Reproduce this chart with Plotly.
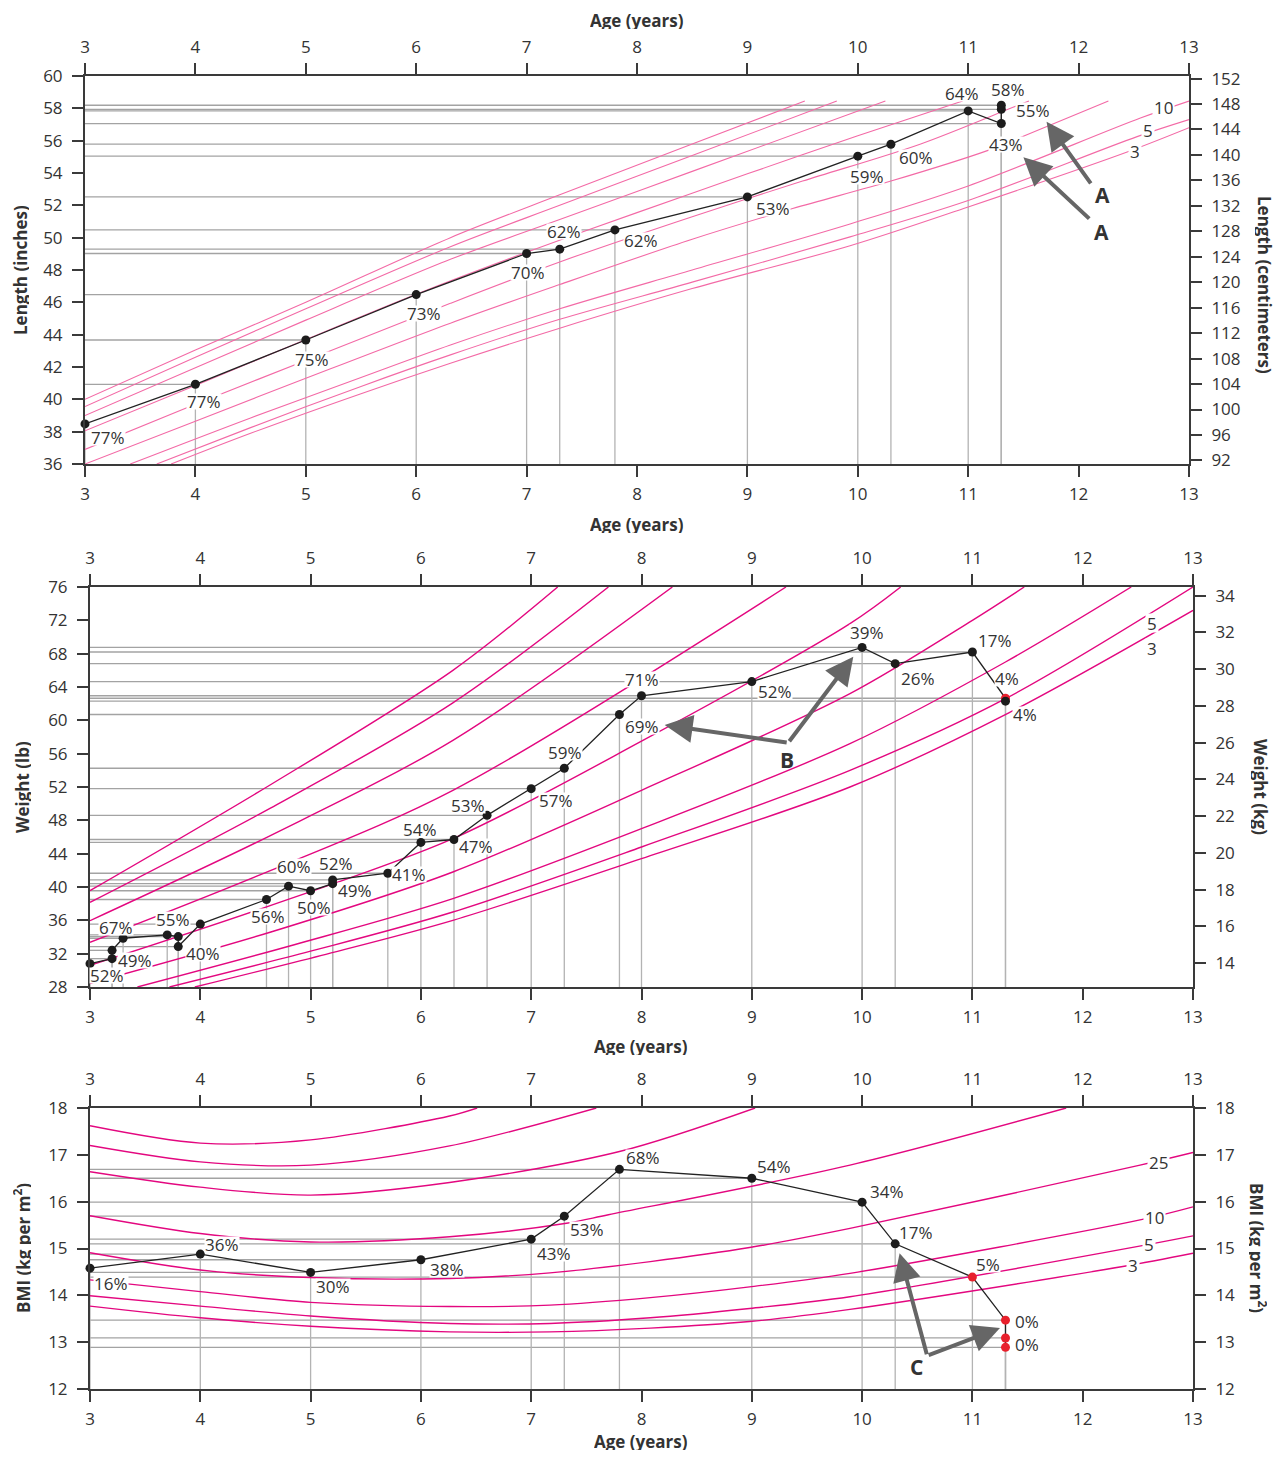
import plotly.graph_objects as go

# the page body has an 8 px margin: the figure is laid out in page pixels minus that offset
OFF = 8
FW, FH = 1285 - 2 * OFF, 1459 - 2 * OFF
FONT = "Open Sans"
INK = "#333333"
AXC = "#3a3a3a"
PINK1 = "#f36aa6"
PINK = "#e3077f"
RED = "#e8202c"
DOT = "#1c1c1c"
ARW = "#666666"

AGE_TICKS = list(range(3, 14))

# ---------------- Panel 1 : length ----------------
len_age = [3, 4, 5, 6, 7, 7.3, 7.8, 9, 10, 10.3, 11, 11.3, 11.3, 11.3]
len_in = [38.48, 40.93, 43.67, 46.48, 49.02, 49.29, 50.48, 52.52, 55.04, 55.78, 57.84, 57.06, 57.94, 58.19]
len_pct = ["77%", "77%", "75%", "73%", "70%", "62%", "62%", "53%", "59%", "60%", "64%", "43%", "55%", "58%"]
len_off = [(23, 14), (9, 17), (6, 19), (8, 19), (1, 19), (4, -18), (26, 11), (26, 12), (9, 20), (25, 13),
           (-6, -17), (5, 21), (32, 1), (7, -16)]

len_p97 = [(3, 40.0), (4, 43.05), (5, 46.0), (6.31, 50.0), (7.3, 52.65), (8.5, 55.8), (9.52, 58.45)]
len_p95 = [(3, 39.55), (4, 42.6), (5, 45.6), (6.31, 49.44), (7.3, 52.0), (8.5, 55.08), (9.81, 58.45)]
len_p90 = [(3, 39.0), (4, 41.95), (5, 44.9), (6.31, 48.66), (7.3, 51.12), (8.5, 54.1), (10.25, 58.45)]
len_p75 = [(3, 38.05), (4, 40.85), (5, 43.7), (6, 46.5), (7, 49.1), (8, 51.55), (9, 53.95), (10, 56.3), (10.95, 58.45)]
len_p50 = [(3, 36.9), (4, 39.7), (5, 42.4), (6.31, 45.94), (7.3, 48.5), (8.5, 51.3), (9.5, 53.5), (10.57, 55.8),
           (11.4, 58.05), (11.55, 58.45)]
len_p25 = [(3, 36.0), (4, 38.65), (5, 41.3), (6.31, 44.71), (7.3, 47.1), (8.5, 49.9), (9.41, 51.8), (10.3, 53.5),
           (11.18, 55.4), (11.51, 56.3), (12.27, 58.45)]
len_p10 = [(3.41, 36.0), (4.5, 38.85), (5.5, 41.35), (6.31, 43.36), (7.3, 45.6), (8.5, 48.0), (9.93, 50.85),
           (11, 53.2), (12.56, 57.4), (13, 58.45)]
len_p5 = [(3.65, 36.0), (4.5, 38.25), (5.5, 40.8), (6.31, 42.75), (7.3, 44.95), (8.5, 47.25), (9.93, 50.05),
          (11, 52.3), (12.53, 56.25), (13, 57.3)]
len_p3 = [(3.78, 36.0), (4.5, 37.9), (5.5, 40.35), (6.31, 42.23), (7.3, 44.4), (8.5, 46.85), (9.93, 49.5),
          (11, 51.9), (12.44, 55.3), (13, 56.8)]

# ---------------- Panel 2 : weight ----------------
wt_age = [3, 3.2, 3.2, 3.3, 3.7, 3.8, 3.8, 4.0, 4.6, 4.8, 5.0, 5.2, 5.2, 5.7, 6.0, 6.3, 6.6, 7.0, 7.3, 7.8, 8.0,
          9.0, 10.0, 10.3, 11.0, 11.3, 11.3]
wt_lb = [30.8, 31.4, 32.4, 33.85, 34.25, 34.05, 32.85, 35.55, 38.5, 40.1, 39.55, 40.4, 40.85, 41.65, 45.35, 45.7,
         48.6, 51.8, 54.25, 60.7, 62.95, 64.65, 68.75, 66.8, 68.2, 62.65, 62.3]
wt_pct = ["52%", "49%", "", "67%", "55%", "", "40%", "", "56%", "60%", "50%", "49%", "52%", "41%", "54%", "47%",
          "53%", "57%", "59%", "69%", "71%", "52%", "39%", "26%", "17%", "4%", "4%"]
wt_flag = [0] * 25 + [1, 0]
wt_off = [(17, 12), (23, 2), (0, 0), (-7, -11), (6, -15), (0, 0), (25, 7), (0, 0), (2, 17), (5, -20), (3, 17),
          (22, 7), (3, -16), (21, 1), (-1, -13), (22, 7), (-19, -10), (25, 12), (1, -16), (23, 12), (0, -16),
          (23, 10), (5, -15), (23, 15), (23, -12), (2, -20), (20, 13)]

wt_p97 = [(3, 39.56), (4.64, 52.3), (6.29, 66.0), (7.24, 76)]
wt_p95 = [(3, 38.16), (4.64, 49.5), (6.29, 62.1), (7.70, 76)]
wt_p90 = [(3, 35.96), (4.64, 46.2), (6.29, 57.6), (8.28, 76)]
wt_p75 = [(3, 33.36), (4.64, 42.0), (6.29, 51.6), (9.31, 76)]
wt_p50 = [(3, 30.6), (4.64, 37.8), (6.29, 45.8), (8, 57.5), (9.89, 71.6), (10.35, 76)]
wt_p25 = [(3, 28.44), (4.64, 34.6), (6.29, 41.8), (8, 51.6), (9.89, 63.2), (11, 72.0), (11.47, 76)]
wt_p10 = [(3.43, 28), (4.86, 33.1), (6.29, 38.6), (8, 47.0), (9.89, 57.2), (11.3, 67.0), (12.44, 76)]
wt_p5 = [(3.72, 28), (5.0, 32.3), (6.29, 37.0), (8, 44.8), (9.89, 54.0), (11.3, 62.6), (13, 76)]
wt_p3 = [(3.95, 28), (5.1, 31.8), (6.29, 36.0), (8, 43.4), (9.89, 52.0), (11.33, 60.9), (13, 73.2)]

# ---------------- Panel 3 : BMI ----------------
bmi_age = [3, 4, 5, 6, 7, 7.3, 7.8, 9, 10, 10.3, 11, 11.3, 11.3, 11.3]
bmi_val = [14.58, 14.88, 14.49, 14.76, 15.2, 15.69, 16.69, 16.5, 15.99, 15.1, 14.39, 13.47, 13.09, 12.89]
bmi_pct = ["16%", "36%", "30%", "38%", "43%", "53%", "68%", "54%", "34%", "17%", "5%", "0%", "", "0%"]
bmi_flag = [0] * 10 + [1, 1, 1, 1]
bmi_off = [(21, 15), (22, -10), (22, 14), (26, 10), (23, 14), (23, 13), (24, -12), (22, -12), (25, -11),
           (21, -11), (16, -13), (22, 1), (0, 0), (22, -3)]

bmi_p90 = [(3, 17.62), (4, 17.25), (5, 17.32), (6.26, 17.83), (6.51, 18.0)]
bmi_p85 = [(3, 17.2), (4, 16.85), (5, 16.78), (6.26, 17.19), (7.59, 18.0)]
bmi_p75 = [(3, 16.64), (4, 16.31), (5, 16.14), (6.26, 16.41), (7.8, 17.07), (9.03, 18.0)]
bmi_p50 = [(3, 15.70), (4, 15.32), (5, 15.14), (6.26, 15.25), (7.32, 15.54), (7.7, 15.72), (9.89, 16.78),
           (11.85, 18.0)]
bmi_p25 = [(3, 14.91), (4, 14.54), (5, 14.38), (6.26, 14.36), (7.17, 14.48), (8.08, 14.72), (8.98, 15.02),
           (9.89, 15.43), (12.52, 16.78), (13, 17.05)]
bmi_p10 = [(3, 14.33), (4, 14.08), (5, 13.85), (6.26, 13.76), (7.17, 13.79), (8.08, 13.95), (8.98, 14.18),
           (9.89, 14.47), (12.52, 15.61), (13, 15.89)]
bmi_p5 = [(3, 13.99), (4, 13.77), (5, 13.56), (6.26, 13.40), (7.17, 13.40), (8.08, 13.52), (8.98, 13.72),
          (9.89, 13.97), (12.49, 15.04), (13, 15.27)]
bmi_p3 = [(3, 13.77), (4, 13.52), (5, 13.34), (6.26, 13.22), (7.17, 13.22), (8.08, 13.30), (8.98, 13.44),
          (9.89, 13.70), (12.35, 14.61), (13, 14.90)]

LB_PER_KG = 2.20462
CM_PER_IN = 2.54

fig = go.Figure()


def aid(i):
    return "" if i == 1 else str(i)


def refs(k):
    b, t = 2 * k + 1, 2 * k + 2
    return "x" + aid(b), "y" + aid(b), "x" + aid(t), "y" + aid(t)


def fx(xp):
    return (xp - OFF) / FW


def fy(yp):
    return 1 - (yp - OFF) / FH


layout = {}
common = dict(showline=True, linecolor=AXC, linewidth=2, ticks="outside", ticklen=11, tickwidth=1.5,
              tickcolor=AXC, tickfont=dict(family=FONT, size=17, color=INK), showgrid=False, zeroline=False,
              fixedrange=True, automargin=False)


def setup_axes(k, xl, xr, yt_px, yb_px, yl_range, yl_ticks, yr_range, yr_ticks):
    b, t = 2 * k + 1, 2 * k + 2
    xb, yb, xt, yt = refs(k)
    xdom = [fx(xl), fx(xr)]
    ydom = [fy(yb_px), fy(yt_px)]
    layout["xaxis" + aid(b)] = dict(domain=xdom, anchor=yb, range=[3, 13], tickvals=AGE_TICKS, side="bottom",
                                    ticklabelstandoff=3, **common)
    layout["xaxis" + aid(t)] = dict(overlaying=xb, anchor=yb, range=[3, 13], tickvals=AGE_TICKS, side="top",
                                    ticklabelstandoff=3, **common)
    layout["yaxis" + aid(b)] = dict(domain=ydom, anchor=xb, range=yl_range, tickvals=yl_ticks, side="left",
                                    ticklabelstandoff=6, **common)
    layout["yaxis" + aid(t)] = dict(overlaying=yb, anchor=xb, range=yr_range, tickvals=yr_ticks, side="right",
                                    ticklabelstandoff=6, **common)
    fig.add_trace(go.Scatter(x=[None], y=[None], xaxis=xt, yaxis=yt, showlegend=False, hoverinfo="skip"))


setup_axes(0, 85, 1189, 76, 464, [36, 60], list(range(36, 61, 2)),
           [36 * CM_PER_IN, 60 * CM_PER_IN], list(range(92, 153, 4)))
setup_axes(1, 90, 1193, 587, 987, [28, 76], list(range(28, 77, 4)),
           [28 / LB_PER_KG, 76 / LB_PER_KG], list(range(14, 35, 2)))
setup_axes(2, 90, 1193, 1108, 1389, [12, 18], list(range(12, 19)),
           [12, 18], list(range(12, 19)))


def draw_panel(k, ages, vals, pcts, offs, flags, curves, pink, pink_w, ybottom):
    xb, yb, _, _ = refs(k)
    vx, vy, hx, hy = [], [], [], []
    for a, v in zip(ages, vals):
        vx += [a, a, None]
        vy += [ybottom, v, None]
        hx += [3, a, None]
        hy += [v, v, None]
    fig.add_trace(go.Scatter(x=hx, y=hy, mode="lines", line=dict(color="#a3a3a3", width=1.3), xaxis=xb, yaxis=yb,
                             showlegend=False, hoverinfo="skip"))
    fig.add_trace(go.Scatter(x=vx, y=vy, mode="lines", line=dict(color="#b3b3b3", width=1.3), xaxis=xb, yaxis=yb,
                             showlegend=False, hoverinfo="skip"))
    for c in curves:
        fig.add_trace(go.Scatter(x=[p[0] for p in c], y=[p[1] for p in c], mode="lines",
                                 line=dict(color=pink, width=pink_w, shape="spline", smoothing=0.9),
                                 xaxis=xb, yaxis=yb, showlegend=False, hoverinfo="skip"))
    colors = [RED if f else DOT for f in flags]
    fig.add_trace(go.Scatter(x=ages, y=vals, mode="lines+markers", line=dict(color="#222222", width=1.3),
                             marker=dict(color=colors, size=9), xaxis=xb, yaxis=yb, showlegend=False,
                             hoverinfo="skip", cliponaxis=False))
    for a, v, lab, o in zip(ages, vals, pcts, offs):
        if not lab:
            continue
        fig.add_annotation(x=a, y=v, xref=xb, yref=yb, text=lab, showarrow=False, xshift=o[0], yshift=-o[1],
                           xanchor="center", yanchor="middle", height=15, valign="middle",
                           bgcolor="white", borderpad=0, font=dict(family=FONT, size=17, color=INK))


draw_panel(0, len_age, len_in, len_pct, len_off, [0] * len(len_age),
           [len_p97, len_p95, len_p90, len_p75, len_p50, len_p25, len_p10, len_p5, len_p3], PINK1, 1.1, 36)
draw_panel(1, wt_age, wt_lb, wt_pct, wt_off, wt_flag,
           [wt_p97, wt_p95, wt_p90, wt_p75, wt_p50, wt_p25, wt_p10, wt_p5, wt_p3], PINK, 1.4, 28)
draw_panel(2, bmi_age, bmi_val, bmi_pct, bmi_off, bmi_flag,
           [bmi_p90, bmi_p85, bmi_p75, bmi_p50, bmi_p25, bmi_p10, bmi_p5, bmi_p3], PINK, 1.4, 12)


def curve_label(k, x, y, text):
    xb, yb, _, _ = refs(k)
    fig.add_annotation(x=x, y=y, xref=xb, yref=yb, text=text, showarrow=False, bgcolor="white", borderpad=1,
                       height=16, valign="middle",
                       xanchor="center", yanchor="middle", font=dict(family=FONT, size=17, color=INK))


curve_label(0, 12.77, 58.10, "10")
curve_label(0, 12.63, 56.66, "5")
curve_label(0, 12.51, 55.38, "3")
curve_label(1, 12.63, 71.72, "5")
curve_label(1, 12.63, 68.72, "3")
curve_label(2, 12.69, 16.85, "25")
curve_label(2, 12.65, 15.68, "10")
curve_label(2, 12.60, 15.10, "5")
curve_label(2, 12.46, 14.65, "3")


def arrow(k, head, tail):
    xb, yb, _, _ = refs(k)
    fig.add_annotation(x=head[0], y=head[1], ax=tail[0], ay=tail[1], xref=xb, yref=yb, axref=xb, ayref=yb,
                       text="", showarrow=True, arrowhead=2, arrowsize=1.4, arrowwidth=4, arrowcolor=ARW)


def letter(k, x, y, t):
    xb, yb, _, _ = refs(k)
    fig.add_annotation(x=x, y=y, xref=xb, yref=yb, text="<b>" + t + "</b>", showarrow=False,
                       xanchor="center", yanchor="middle", font=dict(family=FONT, size=21, color="#333333"))


arrow(0, (11.71, 57.17), (12.12, 53.26))
letter(0, 12.22, 52.67, "A")
arrow(0, (11.50, 54.97), (12.11, 51.09))
letter(0, 12.21, 50.37, "A")

arrow(1, (8.21, 59.44), (9.33, 57.32))
arrow(1, (9.92, 67.64), (9.33, 57.32))
letter(1, 9.32, 55.24, "B")

arrow(2, (10.34, 14.90), (10.59, 12.71))
arrow(2, (11.25, 13.30), (10.59, 12.71))
letter(2, 10.49, 12.48, "C")


def title(xp, yp, text, angle=0):
    fig.add_annotation(x=fx(xp), y=fy(yp), xref="paper", yref="paper", text="<b>" + text + "</b>",
                       showarrow=False, xanchor="center", yanchor="middle", height=18, valign="middle",
                       textangle=angle, font=dict(family=FONT, size=17, color=INK))


title(637, 20, "Age (years)")
title(637, 524, "Age (years)")
title(641, 1046, "Age (years)")
title(641, 1441, "Age (years)")
title(20, 270, "Length (inches)", -90)
title(1264, 285, "Length (centimeters)", 90)
title(22, 787, "Weight (lb)", -90)
title(1260, 787, "Weight (kg)", 90)
title(22, 1248, "BMI (kg per m<sup>2</sup>)", -90)
title(1258, 1248, "BMI (kg per m<sup>2</sup>)", 90)

fig.update_layout(width=FW, height=FH, margin=dict(l=0, r=0, t=0, b=0, autoexpand=False), plot_bgcolor="white",
                  paper_bgcolor="white", showlegend=False, font=dict(family=FONT, color=INK), **layout)

fig.write_html("out.html")
